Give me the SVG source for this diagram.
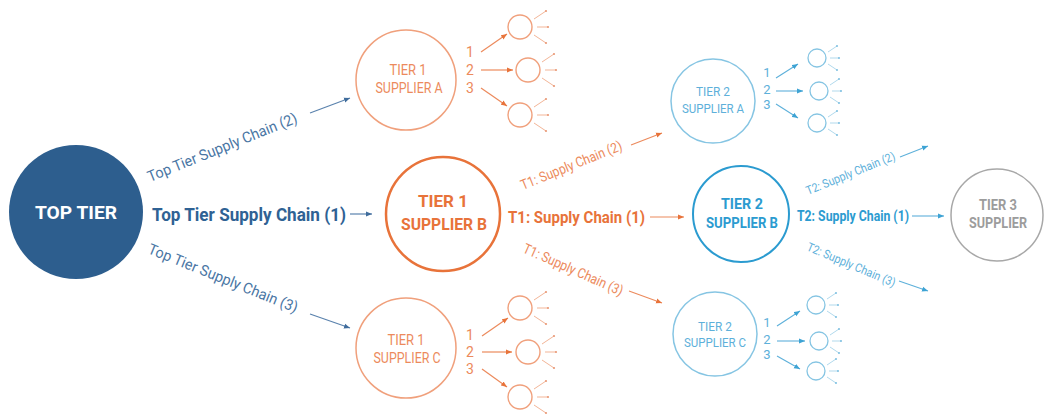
<svg xmlns="http://www.w3.org/2000/svg" xmlns:xlink="http://www.w3.org/1999/xlink" width="1046" height="416" viewBox="0 0 1046 416">
<style>
text{font-family:Roboto,"Liberation Sans",sans-serif;}
.c{text-anchor:middle;}
.b{font-weight:bold;}
.dk{fill:#2f6294;}
.lb{fill:#4a76a4;}
.or{fill:#e8733a;}
.lo{fill:#ec8a5c;}
.cy{fill:#2b9bd0;}
.lc{fill:#5db0da;}
.gr{fill:#9c9c9c;}
</style>
<defs>
<marker id="mB" markerUnits="userSpaceOnUse" markerWidth="7" markerHeight="6" refX="6" refY="3" orient="auto"><path d="M0,0.5L6,3L0,5.5z" fill="#3f6c9c"/></marker>
<marker id="mO" markerUnits="userSpaceOnUse" markerWidth="7" markerHeight="6" refX="6" refY="3" orient="auto"><path d="M0,0.5L6,3L0,5.5z" fill="#e8733a"/></marker>
<marker id="mC" markerUnits="userSpaceOnUse" markerWidth="7" markerHeight="6" refX="6" refY="3" orient="auto"><path d="M0,0.5L6,3L0,5.5z" fill="#3da3d4"/></marker>
<g id="sO">
<circle r="12" fill="none" stroke="#f0a07c" stroke-width="1.4"/>
<g stroke="#f3b597" stroke-width="1"><line x1="14" y1="-8" x2="26" y2="-16"/><line x1="17" y1="0" x2="28" y2="0"/><line x1="14" y1="8" x2="26" y2="16"/></g>
<g fill="#e99a78"><circle cx="26" cy="-16" r="1.1"/><circle cx="28" cy="0" r="1.1"/><circle cx="26" cy="16" r="1.1"/></g>
</g>
<g id="sC">
<circle r="9" fill="none" stroke="#86c5e3" stroke-width="1.3"/>
<g stroke="#a8d5ea" stroke-width="0.9"><line x1="11" y1="-6" x2="20" y2="-12"/><line x1="13" y1="0" x2="22" y2="0"/><line x1="11" y1="6" x2="20" y2="12"/></g>
<g fill="#7dbfe0"><circle cx="20" cy="-12" r="1"/><circle cx="22" cy="0" r="1"/><circle cx="20" cy="12" r="1"/></g>
</g>
</defs>
<rect width="1046" height="416" fill="#ffffff"/>

<g id="connectors">
<g stroke="#5a82ad" stroke-width="1.2" fill="none">
<line x1="350" y1="214" x2="372" y2="214" marker-end="url(#mB)"/>
<line x1="310" y1="113" x2="350" y2="98" marker-end="url(#mB)"/>
<line x1="310" y1="314" x2="350" y2="328" marker-end="url(#mB)"/>
</g>
<g stroke="#ec8a5c" stroke-width="1.2" fill="none">
<line x1="650" y1="217" x2="684" y2="217" marker-end="url(#mO)"/>
<line x1="631" y1="145" x2="662" y2="133" marker-end="url(#mO)"/>
<line x1="629" y1="291" x2="662" y2="303" marker-end="url(#mO)"/>
<line x1="481" y1="52" x2="507" y2="34" marker-end="url(#mO)"/>
<line x1="481" y1="70" x2="513" y2="70" marker-end="url(#mO)"/>
<line x1="481" y1="88" x2="507" y2="106" marker-end="url(#mO)"/>
<line x1="482" y1="336" x2="508" y2="318" marker-end="url(#mO)"/>
<line x1="482" y1="352" x2="512" y2="352" marker-end="url(#mO)"/>
<line x1="482" y1="369" x2="507" y2="387" marker-end="url(#mO)"/>
</g>
<g stroke="#5db0da" stroke-width="1.1" fill="none">
<line x1="912" y1="216" x2="944" y2="216" marker-end="url(#mC)"/>
<line x1="900" y1="157" x2="928" y2="146" marker-end="url(#mC)"/>
<line x1="899" y1="281" x2="928" y2="291" marker-end="url(#mC)"/>
<line x1="776" y1="78" x2="798" y2="64" marker-end="url(#mC)"/>
<line x1="776" y1="91" x2="803" y2="91" marker-end="url(#mC)"/>
<line x1="776" y1="104" x2="798" y2="118" marker-end="url(#mC)"/>
<line x1="777" y1="326" x2="800" y2="311" marker-end="url(#mC)"/>
<line x1="777" y1="341" x2="805" y2="341" marker-end="url(#mC)"/>
<line x1="777" y1="356" x2="800" y2="369" marker-end="url(#mC)"/>
</g>
<text class="dk b" x="152" y="221" font-size="18.5" textLength="194" lengthAdjust="spacingAndGlyphs">Top Tier Supply Chain (1)</text>
<text class="lb" transform="translate(150,182) rotate(-22)" font-size="15" textLength="160" lengthAdjust="spacingAndGlyphs">Top Tier Supply Chain (2)</text>
<text class="lb" transform="translate(147,253) rotate(22)" font-size="15" textLength="160" lengthAdjust="spacingAndGlyphs">Top Tier Supply Chain (3)</text>
<text class="or b" x="508" y="223" font-size="16" textLength="137" lengthAdjust="spacingAndGlyphs">T1: Supply Chain (1)</text>
<text class="lo" transform="translate(523,190) rotate(-22)" font-size="14" textLength="108" lengthAdjust="spacingAndGlyphs">T1: Supply Chain (2)</text>
<text class="lo" transform="translate(522,252) rotate(24)" font-size="14" textLength="108" lengthAdjust="spacingAndGlyphs">T1: Supply Chain (3)</text>
<text class="cy b" x="797" y="221" font-size="14" textLength="112" lengthAdjust="spacingAndGlyphs">T2: Supply Chain (1)</text>
<text class="lc" transform="translate(808,195) rotate(-22)" font-size="12" textLength="95" lengthAdjust="spacingAndGlyphs">T2: Supply Chain (2)</text>
<text class="lc" transform="translate(806,250) rotate(23)" font-size="12" textLength="95" lengthAdjust="spacingAndGlyphs">T2: Supply Chain (3)</text>
<g class="lo" font-size="14"><text x="470" y="57" class="c">1</text><text x="470" y="75" class="c">2</text><text x="470" y="93" class="c">3</text>
<text x="470" y="340" class="c">1</text><text x="470" y="357" class="c">2</text><text x="470" y="374" class="c">3</text></g>
<g class="lc" font-size="13"><text x="767" y="77" class="c">1</text><text x="767" y="94" class="c">2</text><text x="767" y="109" class="c">3</text>
<text x="767" y="327" class="c">1</text><text x="767" y="344" class="c">2</text><text x="767" y="359" class="c">3</text></g>
</g>

<g id="top-tier">
<circle cx="76" cy="212" r="67" fill="#2d5e8e"/>
<text x="76" y="219" class="c b" font-size="19" fill="#ffffff" textLength="82" lengthAdjust="spacingAndGlyphs">TOP TIER</text>
</g>

<g id="tier1-a">
<circle cx="406" cy="80" r="50" fill="none" stroke="#f0a07c" stroke-width="1.5"/>
<text x="408" y="75" class="c lo" font-size="14" textLength="37" lengthAdjust="spacingAndGlyphs">TIER 1</text>
<text x="409" y="93" class="c lo" font-size="14" textLength="67" lengthAdjust="spacingAndGlyphs">SUPPLIER A</text>
</g>
<g id="tier1-b">
<circle cx="443" cy="214" r="57" fill="none" stroke="#e8733a" stroke-width="2.5"/>
<text x="443" y="207" class="c b or" font-size="17" textLength="50" lengthAdjust="spacingAndGlyphs">TIER 1</text>
<text x="444" y="230" class="c b or" font-size="17" textLength="86" lengthAdjust="spacingAndGlyphs">SUPPLIER B</text>
</g>
<g id="tier1-c">
<circle cx="406" cy="348" r="50" fill="none" stroke="#f0a07c" stroke-width="1.5"/>
<text x="406" y="345" class="c lo" font-size="14" textLength="37" lengthAdjust="spacingAndGlyphs">TIER 1</text>
<text x="407" y="363" class="c lo" font-size="14" textLength="67" lengthAdjust="spacingAndGlyphs">SUPPLIER C</text>
</g>
<g id="tier2-a">
<circle cx="713" cy="101" r="42" fill="none" stroke="#86c5e3" stroke-width="1.5"/>
<text x="713" y="96" class="c lc" font-size="13" textLength="34" lengthAdjust="spacingAndGlyphs">TIER 2</text>
<text x="713" y="113" class="c lc" font-size="13" textLength="62" lengthAdjust="spacingAndGlyphs">SUPPLIER A</text>
</g>
<g id="tier2-b">
<circle cx="741" cy="214" r="48" fill="none" stroke="#2b9bd0" stroke-width="2"/>
<text x="742" y="209" class="c b cy" font-size="15" textLength="42" lengthAdjust="spacingAndGlyphs">TIER 2</text>
<text x="742" y="228" class="c b cy" font-size="15" textLength="72" lengthAdjust="spacingAndGlyphs">SUPPLIER B</text>
</g>
<g id="tier2-c">
<circle cx="715" cy="334" r="42" fill="none" stroke="#86c5e3" stroke-width="1.5"/>
<text x="715" y="331" class="c lc" font-size="13" textLength="34" lengthAdjust="spacingAndGlyphs">TIER 2</text>
<text x="715" y="347" class="c lc" font-size="13" textLength="62" lengthAdjust="spacingAndGlyphs">SUPPLIER C</text>
</g>
<g id="tier3">
<circle cx="997" cy="215" r="46" fill="none" stroke="#a8a8a8" stroke-width="1.5"/>
<text x="998" y="210" class="c b gr" font-size="14" textLength="38" lengthAdjust="spacingAndGlyphs">TIER 3</text>
<text x="998" y="228" class="c b gr" font-size="14" textLength="58" lengthAdjust="spacingAndGlyphs">SUPPLIER</text>
</g>

<g id="t1a-subs"><use id="t1a-s1" xlink:href="#sO" x="520" y="27"/><use id="t1a-s2" xlink:href="#sO" x="528" y="70"/><use id="t1a-s3" xlink:href="#sO" x="520" y="115"/></g>
<g id="t1c-subs"><use id="t1c-s1" xlink:href="#sO" x="520" y="308"/><use id="t1c-s2" xlink:href="#sO" x="528" y="352"/><use id="t1c-s3" xlink:href="#sO" x="520" y="397"/></g>
<g id="t2a-subs"><use id="t2a-s1" xlink:href="#sC" x="817" y="58"/><use id="t2a-s2" xlink:href="#sC" x="819" y="91"/><use id="t2a-s3" xlink:href="#sC" x="817" y="123"/></g>
<g id="t2c-subs"><use id="t2c-s1" xlink:href="#sC" x="816" y="305"/><use id="t2c-s2" xlink:href="#sC" x="819" y="341"/><use id="t2c-s3" xlink:href="#sC" x="816" y="371"/></g>
</svg>
